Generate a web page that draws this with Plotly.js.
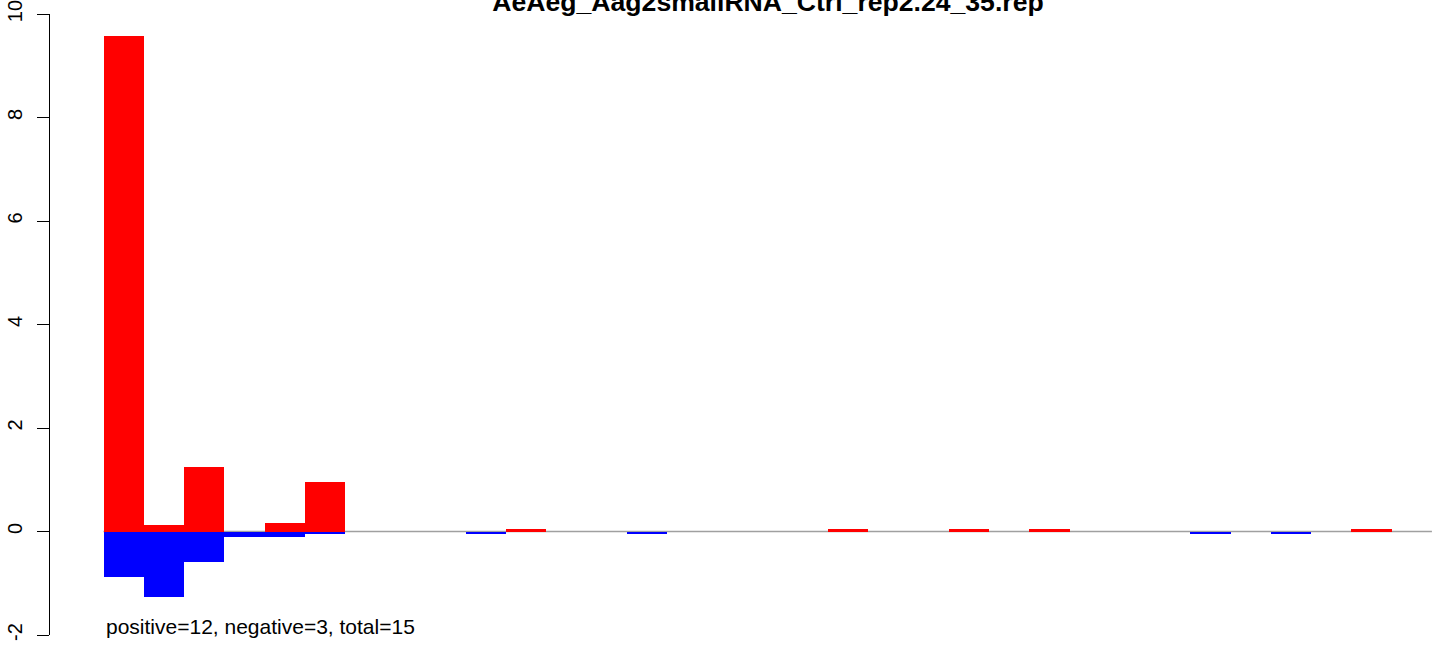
<!DOCTYPE html>
<html>
<head>
<meta charset="utf-8">
<script src="https://cdn.plot.ly/plotly-3.0.1.min.js"></script>
<style>html,body{margin:0;padding:0;background:#fff;}#chart{width:1444px;height:645px;}</style>
</head>
<body>
<div id="chart"></div>
<script>
// Data
const chartTitle = "AeAeg_Aag2smallRNA_Ctrl_rep2.24_35.rep";
const positions = [0,1,2,3,4,5,6,7,8,9,10,11,12,13,14,15,16,17,18,19,20,21,22,23,24,25,26,27,28,29,30,31];
const positiveValues = [9.57,0.12,1.24,0,0.16,0.95,0,0,0,0,0.05,0,0,0,0,0,0,0,0.05,0,0,0.05,0,0.05,0,0,0,0,0,0,0,0.05];
const negativeValues = [-0.88,-1.27,-0.59,-0.11,-0.11,-0.05,0,0,0,-0.05,0,0,0,-0.05,0,0,0,0,0,0,0,0,0,0,0,0,0,-0.05,0,-0.05,0,0];
const yTickVals = [-2,0,2,4,6,8,10];
const yTickText = ["-2","0","2","4","6","8","10"];
const baselineX = [0,33];
const summaryText = "positive=12, negative=3, total=15";

const centers = positions.map(p => p + 0.5);
const FONT = "Liberation Sans, Arial, Helvetica, sans-serif";

const traces = [
  {type:'bar', x:centers, y:positiveValues, width:1, marker:{color:'#FF0000', line:{width:0}}, hoverinfo:'skip'},
  {type:'bar', x:centers, y:negativeValues, width:1, marker:{color:'#0000FF', line:{width:0}}, hoverinfo:'skip'}
];

const layout = {
  width:1444, height:645,
  margin:{l:50, r:0, t:14, b:10, pad:0},
  paper_bgcolor:'#fff', plot_bgcolor:'#fff',
  showlegend:false,
  barmode:'overlay',
  bargap:0,
  font:{family:FONT, color:'#000', size:20},
  title:{text:'<b>'+chartTitle+'</b>', font:{family:FONT, size:26.6, color:'#000'},
         xref:'container', x:768/1444, xanchor:'center',
         yref:'container', y:1-2/645, yanchor:'middle'},
  xaxis:{range:[-1.329, 33.30], visible:false, fixedrange:true},
  yaxis:{range:[-2,10], tickvals:yTickVals, ticktext:yTickText, tickangle:-90,
         showline:true, linecolor:'#000', linewidth:1,
         ticks:'outside', ticklen:12, tickwidth:1, tickcolor:'#000',
         ticklabeloverflow:'allow', ticklabelstandoff:7,
         showgrid:false, zeroline:false, tickfont:{family:FONT, size:20, color:'#000'},
         fixedrange:true},
  shapes:[{type:'line', layer:'below', xref:'x', yref:'y', x0:baselineX[0], x1:baselineX[1], y0:0, y1:0,
           line:{color:'#A0A0A0', width:1.5}}],
  annotations:[{text:summaryText, xref:'x', yref:'y', x:0, y:-1.83, xanchor:'left', yanchor:'middle',
                showarrow:false, font:{family:FONT, size:21, color:'#000'}}]
};

Plotly.newPlot('chart', traces, layout, {displayModeBar:false, staticPlot:true});
</script>
</body>
</html>
